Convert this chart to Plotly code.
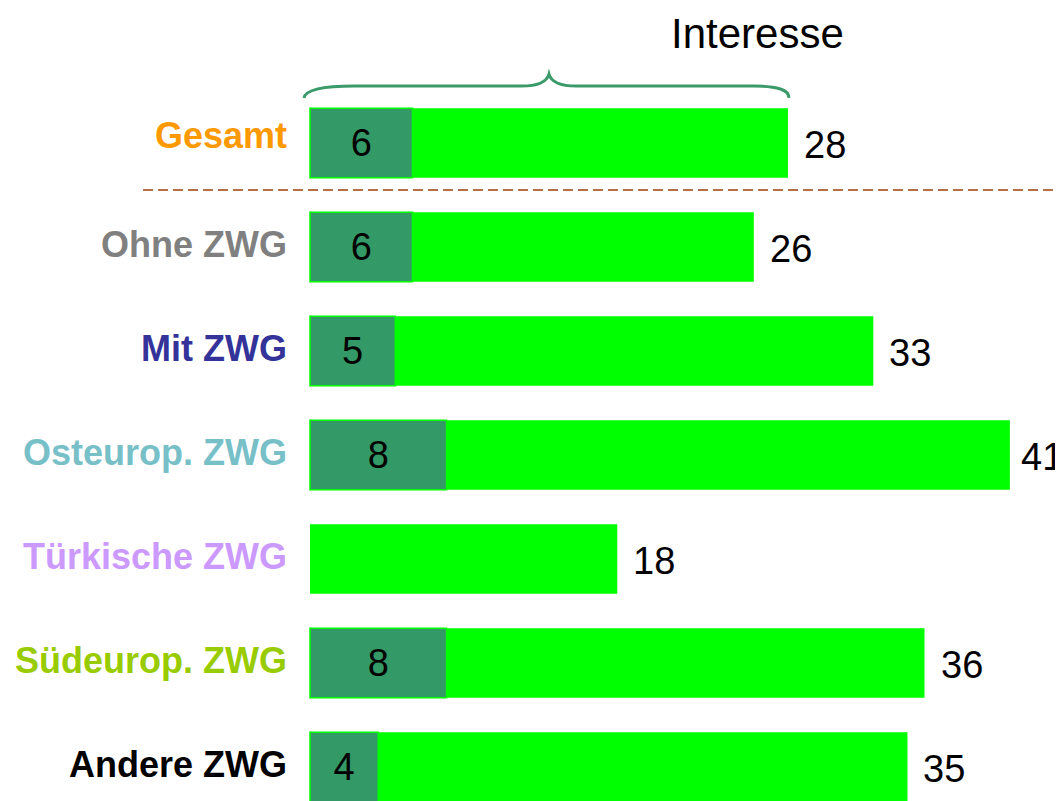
import plotly.graph_objects as go

categories = ["Gesamt", "Ohne ZWG", "Mit ZWG", "Osteurop. ZWG",
              "Türkische ZWG", "Südeurop. ZWG", "Andere ZWG"]
label_colors = ["#FF9900", "#808080", "#333399", "#78C0C8",
                "#CC99FF", "#99CC00", "#000000"]
strong = [6, 6, 5, 8, None, 8, 4]      # dark segment
total = [28, 26, 33, 41, 18, 36, 35]   # whole bar (Interesse)

ypos = list(range(len(categories)))
rest = [t - (s or 0) for t, s in zip(total, strong)]
base = [s or 0 for s in strong]

FONT = "Arial, Liberation Sans, sans-serif"

# page body has an 8px margin, so the figure is a little smaller
W, H = 1055, 793
PX = 17.07           # pixels per unit on x
X0 = 302             # pixel of x = 0
ROW = 104            # pixels per category
Y0 = 135             # pixel of first category centre

fig = go.Figure()
fig.add_trace(go.Bar(
    y=ypos, x=strong, orientation="h", width=0.67,
    marker=dict(color="#339966", line=dict(color="#00FF00", width=1.5)),
    text=[str(s) if s is not None else "" for s in strong],
    textposition="inside", insidetextanchor="middle",
    textfont=dict(family=FONT, size=38, color="black"),
    hoverinfo="skip", showlegend=False,
))
fig.add_trace(go.Bar(
    y=ypos, x=rest, base=base, orientation="h", width=0.67,
    marker=dict(color="#00FF00", line=dict(width=0)),
    hoverinfo="skip", showlegend=False,
))

# category labels, coloured per group
for i, (cat, col) in enumerate(zip(categories, label_colors)):
    fig.add_annotation(
        x=0, y=i, xref="x", yref="y", text=f"<b>{cat}</b>",
        xanchor="right", yanchor="middle", xshift=-21,
        yshift=8 if i == 0 else 3, showarrow=False,
        font=dict(family=FONT, size=36, color=col),
    )
# totals right of the bars (squeezed a bit when close to the edge)
for i, t in enumerate(total):
    room = W - X0 - t * PX - 44
    fig.add_annotation(
        x=t, y=i, xref="x", yref="y", text=str(t),
        xanchor="left", yanchor="middle", xshift=min(14, room), yshift=-2,
        showarrow=False, font=dict(family=FONT, size=38, color="black"),
    )

# brace over the Gesamt bar
mid = total[0] / 2
yend, yflat, ytip = -0.433, -0.548, -0.663
path = (f"M -0.35,{yend} Q -0.25,{yflat} 2.6,{yflat} "
        f"L {mid - 1.6},{yflat} Q {mid - 0.2},{yflat} {mid},{ytip} "
        f"Q {mid + 0.2},{yflat} {mid + 1.6},{yflat} "
        f"L {total[0] - 2.0},{yflat} Q {total[0] + 0.1},{yflat} {total[0] + 0.05},{yend}")
fig.add_shape(type="path", path=path, xref="x", yref="y",
              line=dict(color="#3A9A6A", width=3))
fig.add_annotation(x=26.2, y=1, xref="x", yref="paper", yanchor="top", text="Interesse",
                   showarrow=False, font=dict(family=FONT, size=42, color="black"))

# dashed separator under Gesamt
fig.add_shape(type="line", xref="paper", yref="y", x0=135 / W, x1=1.0, y0=0.452, y1=0.452,
              line=dict(color="#A0400A", width=1.5, dash="10px,5px"))

fig.update_layout(
    barmode="overlay", width=W, height=H,
    margin=dict(l=0, r=0, t=0, b=0),
    paper_bgcolor="white", plot_bgcolor="white",
    xaxis=dict(range=[-X0 / PX, (W - X0) / PX], visible=False),
    yaxis=dict(range=[(H - Y0) / ROW, -Y0 / ROW], visible=False),
)
fig.write_html("out.html")
